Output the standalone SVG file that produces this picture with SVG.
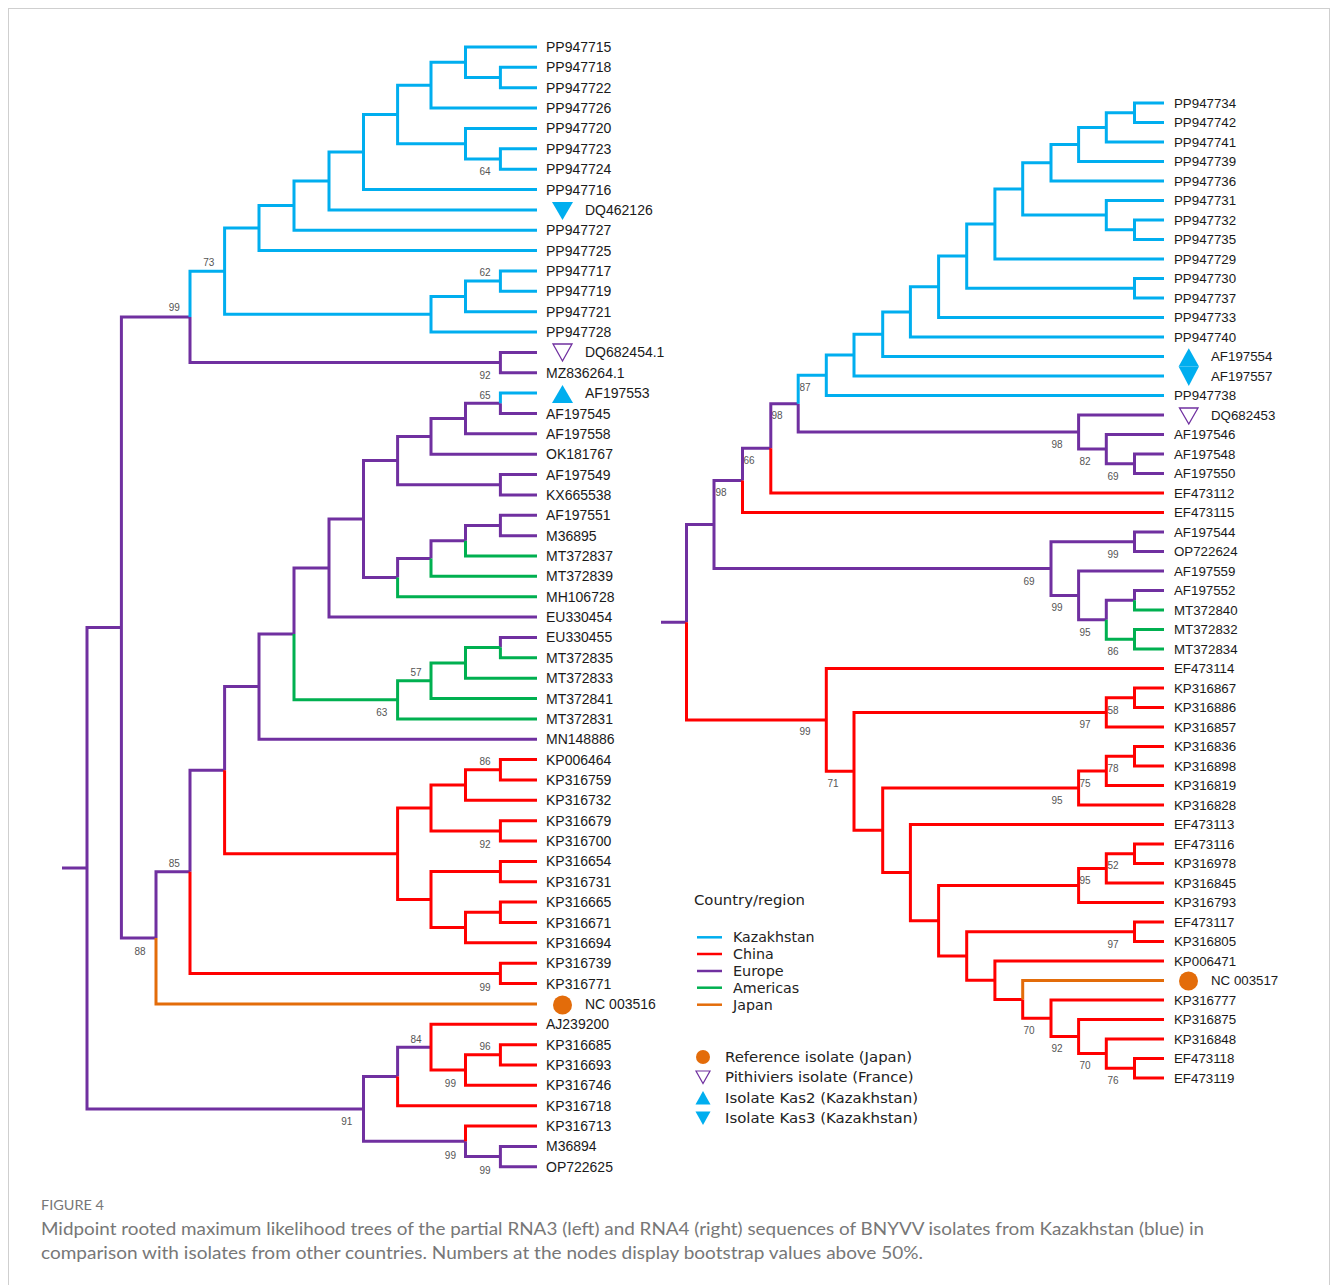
<svg xmlns="http://www.w3.org/2000/svg" width="1331" height="1285" viewBox="0 0 1331 1285">
<style>
.e{fill:none;stroke-width:3;stroke-linejoin:miter;stroke-linecap:butt}
.b{stroke:#00AEEF}.r{stroke:#FF0000}.p{stroke:#7030A0}.g{stroke:#00B050}.o{stroke:#E36C0A}
.lf{font-family:"Liberation Sans",Arial,sans-serif;font-size:14px;fill:#1a1a1a}
.rf{font-family:"Liberation Sans",Arial,sans-serif;font-size:13.3px;fill:#1a1a1a}
.bs{font-family:"Liberation Sans",Arial,sans-serif;font-size:10px;fill:#555;text-anchor:middle}
.lg{font-family:"DejaVu Sans",sans-serif;font-size:14.5px;fill:#222}
.cap{font-family:Lato,"Open Sans",sans-serif;fill:#777}
</style>
<rect x="0" y="0" width="1331" height="1285" fill="#fff"/>
<rect x="8.5" y="8.5" width="1321" height="1300" fill="none" stroke="#cfcfcf" stroke-width="1"/>

<g id="bootstrap-left">
<text class="bs" x="485" y="175.3">64</text>
<text class="bs" x="208.7" y="265.9">73</text>
<text class="bs" x="485" y="275.9">62</text>
<text class="bs" x="174.2" y="311.3">99</text>
<text class="bs" x="485" y="379.3">92</text>
<text class="bs" x="485" y="398.6">65</text>
<text class="bs" x="416" y="675.9">57</text>
<text class="bs" x="381.7" y="716.3">63</text>
<text class="bs" x="485" y="765.3">86</text>
<text class="bs" x="485" y="847.9">92</text>
<text class="bs" x="174.2" y="866.9">85</text>
<text class="bs" x="140" y="954.9">88</text>
<text class="bs" x="485" y="990.9">99</text>
<text class="bs" x="416" y="1042.6">84</text>
<text class="bs" x="485" y="1050.3">96</text>
<text class="bs" x="450.4" y="1086.9">99</text>
<text class="bs" x="346.8" y="1125.3">91</text>
<text class="bs" x="450.4" y="1158.6">99</text>
<text class="bs" x="485" y="1173.6">99</text>
</g>
<g id="bootstrap-right">
<text class="bs" x="805" y="390.6">87</text>
<text class="bs" x="777" y="418.6">98</text>
<text class="bs" x="749" y="464.3">66</text>
<text class="bs" x="721" y="495.6">98</text>
<text class="bs" x="1057" y="447.6">98</text>
<text class="bs" x="1085" y="465.3">82</text>
<text class="bs" x="1113" y="479.6">69</text>
<text class="bs" x="1113" y="557.6">99</text>
<text class="bs" x="1029" y="584.6">69</text>
<text class="bs" x="1057" y="611.3">99</text>
<text class="bs" x="1085" y="635.6">95</text>
<text class="bs" x="1113" y="655.3">86</text>
<text class="bs" x="805" y="735.3">99</text>
<text class="bs" x="833" y="786.6">71</text>
<text class="bs" x="1113" y="713.6">58</text>
<text class="bs" x="1085" y="727.6">97</text>
<text class="bs" x="1113" y="771.6">78</text>
<text class="bs" x="1085" y="786.6">75</text>
<text class="bs" x="1057" y="803.6">95</text>
<text class="bs" x="1113" y="869.3">52</text>
<text class="bs" x="1085" y="883.6">95</text>
<text class="bs" x="1113" y="947.6">97</text>
<text class="bs" x="1029" y="1033.6">70</text>
<text class="bs" x="1057" y="1051.6">92</text>
<text class="bs" x="1085" y="1069.3">70</text>
<text class="bs" x="1113" y="1084.3">76</text>
</g>

<g id="connectors">
<g id="left-tree-edges">
<path class="e p" d="M62 868.1H87 M87 868.1V627.4H121.4 M87 868.1V1108.9H363.5 M121.4 627.4V316.9H190 M121.4 627.4V937.9H156"/>
<path class="e b" d="M190 316.9V271.2H224.6 M224.6 271.2V228.1H259 M224.6 271.2V314.2H431 M259 228.1V205.6H294 M259 228.1V250.6H537 M294 205.6V180.9H329 M294 205.6V230.24H537 M329 180.9V152H363.5 M329 180.9V209.88H537 M363.5 152V114.4H397.6 M363.5 152V189.52H537 M397.6 114.4V85.2H431 M397.6 114.4V143.7H465.5 M431 85.2V62.3H465.5 M431 85.2V108.08H537 M465.5 62.3V47H537 M465.5 62.3V77.5H500.4 M500.4 77.5V67.36H537 M500.4 77.5V87.72H537 M465.5 143.7V128.44H537 M465.5 143.7V159H500.4 M500.4 159V148.8H537 M500.4 159V169.16H537 M431 314.2V296.4H465.5 M431 314.2V332.04H537 M465.5 296.4V281.1H500.4 M465.5 296.4V311.68H537 M500.4 281.1V270.96H537 M500.4 281.1V291.32H537"/>
<path class="e p" d="M190 316.9V362.6H500.4 M500.4 362.6V352.4H537 M500.4 362.6V372.76H537"/>
<path class="e p" d="M156 937.9V871.8H190 M190 871.8V770.2H224.6 M224.6 770.2V686.6H259 M259 686.6V633.9H294 M259 686.6V739.24H537 M294 633.9V568.1H329 M329 568.1V519.1H363.5 M329 568.1V617.08H537 M363.5 519.1V460.6H397.6 M363.5 519.1V577.6H397.6 M397.6 460.6V436.4H431 M397.6 460.6V484.7H500.4 M431 436.4V418.6H465.5 M431 436.4V454.2H537 M465.5 418.6V403.3H500.4 M465.5 418.6V433.84H537 M500.4 403.3V413.48H537 M500.4 484.7V474.56H537 M500.4 484.7V494.92H537 M397.6 577.6V558.5H431 M431 558.5V540.7H465.5 M465.5 540.7V525.5H500.4 M500.4 525.5V515.28H537 M500.4 525.5V535.64H537 M500.4 647.6V637.44H537"/>
<path class="e b" d="M500.4 403.3V393.12H537"/>
<path class="e g" d="M397.6 577.6V596.72H537 M431 558.5V576.36H537 M465.5 540.7V556H537 M294 633.9V699.8H397.6 M397.6 699.8V680.7H431 M397.6 699.8V718.88H537 M431 680.7V662.9H465.5 M431 680.7V698.52H537 M465.5 662.9V647.6H500.4 M465.5 662.9V678.16H537 M500.4 647.6V657.8H537"/>
<path class="e r" d="M190 871.8V973.4H500.4 M500.4 973.4V963.2H537 M500.4 973.4V983.56H537 M224.6 770.2V853.8H397.6 M397.6 853.8V807.9H431 M397.6 853.8V899.6H431 M431 807.9V785.1H465.5 M431 807.9V830.9H500.4 M465.5 785.1V769.8H500.4 M465.5 785.1V800.32H537 M500.4 769.8V759.6H537 M500.4 769.8V779.96H537 M500.4 830.9V820.68H537 M500.4 830.9V841.04H537 M431 899.6V871.6H500.4 M431 899.6V927.6H465.5 M500.4 871.6V861.4H537 M500.4 871.6V881.76H537 M465.5 927.6V912.3H500.4 M465.5 927.6V942.84H537 M500.4 912.3V902.12H537 M500.4 912.3V922.48H537"/>
<path class="e o" d="M156 937.9V1003.92H537"/>
<path class="e p" d="M363.5 1108.9V1076.4H397.6 M363.5 1108.9V1141.3H465.5 M397.6 1076.4V1047.2H431 M465.5 1141.3V1156.6H500.4 M500.4 1156.6V1146.44H537 M500.4 1156.6V1166.8H537"/>
<path class="e r" d="M397.6 1076.4V1105.72H537 M431 1047.2V1024.28H537 M431 1047.2V1070.1H465.5 M465.5 1070.1V1054.8H500.4 M465.5 1070.1V1085.36H537 M500.4 1054.8V1044.64H537 M500.4 1054.8V1065H537 M465.5 1141.3V1126.08H537"/>
</g>
<g id="right-tree-edges">
<path class="e p" d="M661 622.2H686.5 M686.5 622.2V524.5H714 M714 524.5V480.4H742.5 M714 524.5V568.6H1051 M742.5 480.4V448.3H770.8 M770.8 448.3V403.7H798.2 M798.2 403.7V432.1H1078.6 M1078.6 432.1V415H1164 M1078.6 432.1V449.1H1106.3 M1106.3 449.1V434.5H1164 M1106.3 449.1V463.75H1134.5 M1134.5 463.75V454H1164 M1134.5 463.75V473.5H1164"/>
<path class="e r" d="M742.5 480.4V512.5H1164 M770.8 448.3V493H1164"/>
<path class="e b" d="M798.2 403.7V375.3H826.3 M826.3 375.3V355.1H854 M826.3 375.3V395.5H1164 M854 355.1V334.2H882.7 M854 355.1V376H1164 M882.7 334.2V311.9H910.4 M882.7 334.2V356.5H1164 M910.4 311.9V286.8H938.6 M910.4 311.9V337H1164 M938.6 286.8V256.1H966.7 M938.6 286.8V317.5H1164 M966.7 256.1V224H994.9 M966.7 256.1V288.25H1134.5 M994.9 224V188.9H1022.7 M994.9 224V259H1164 M1022.7 188.9V162.7H1051 M1022.7 188.9V215.1H1106.3 M1051 162.7V144.4H1078.6 M1051 162.7V181H1164 M1078.6 144.4V127.4H1106.3 M1078.6 144.4V161.5H1164 M1106.3 127.4V112.75H1134.5 M1106.3 127.4V142H1164 M1134.5 112.75V103H1164 M1134.5 112.75V122.5H1164 M1106.3 215.1V200.5H1164 M1106.3 215.1V229.75H1134.5 M1134.5 229.75V220H1164 M1134.5 229.75V239.5H1164 M1134.5 288.25V278.5H1164 M1134.5 288.25V298H1164"/>
<path class="e p" d="M1051 568.6V541.75H1134.5 M1051 568.6V595.4H1078.6 M1134.5 541.75V532H1164 M1134.5 541.75V551.5H1164 M1078.6 595.4V571H1164 M1078.6 595.4V619.75H1106.3 M1106.3 619.75V600.25H1134.5 M1134.5 600.25V590.5H1164"/>
<path class="e g" d="M1134.5 600.25V610H1164 M1106.3 619.75V639.25H1134.5 M1134.5 639.25V629.5H1164 M1134.5 639.25V649H1164"/>
<path class="e r" d="M686.5 622.2V719.9H826.3 M826.3 719.9V668.5H1164 M826.3 719.9V771.3H854 M854 771.3V712.4H1106.3 M854 771.3V830.3H882.7 M1106.3 712.4V697.75H1134.5 M1106.3 712.4V727H1164 M1134.5 697.75V688H1164 M1134.5 697.75V707.5H1164 M882.7 830.3V788H1078.6 M882.7 830.3V872.6H910.4 M1078.6 788V770.9H1106.3 M1078.6 788V805H1164 M1106.3 770.9V756.25H1134.5 M1106.3 770.9V785.5H1164 M1134.5 756.25V746.5H1164 M1134.5 756.25V766H1164 M910.4 872.6V824.5H1164 M910.4 872.6V920.7H938.6 M938.6 920.7V885.4H1078.6 M938.6 920.7V956H966.7 M1078.6 885.4V868.4H1106.3 M1078.6 885.4V902.5H1164 M1106.3 868.4V853.75H1134.5 M1106.3 868.4V883H1164 M1134.5 853.75V844H1164 M1134.5 853.75V863.5H1164 M966.7 956V931.75H1134.5 M966.7 956V980.2H994.9 M1134.5 931.75V922H1164 M1134.5 931.75V941.5H1164 M994.9 980.2V961H1164 M994.9 980.2V999.4H1022.7 M1022.7 999.4V1018.3H1051 M1051 1018.3V1000H1164 M1051 1018.3V1036.6H1078.6 M1078.6 1036.6V1019.5H1164 M1078.6 1036.6V1053.6H1106.3 M1106.3 1053.6V1039H1164 M1106.3 1053.6V1068.25H1134.5 M1134.5 1068.25V1058.5H1164 M1134.5 1068.25V1078H1164"/>
<path class="e o" d="M1022.7 999.4V980.5H1164"/>
</g>
</g>

<g id="left-leaves">
<g id="n-PP947715"><text class="lf" x="546" y="52">PP947715</text></g>
<g id="n-PP947718"><text class="lf" x="546" y="72.4">PP947718</text></g>
<g id="n-PP947722"><text class="lf" x="546" y="92.7">PP947722</text></g>
<g id="n-PP947726"><text class="lf" x="546" y="113.1">PP947726</text></g>
<g id="n-PP947720"><text class="lf" x="546" y="133.4">PP947720</text></g>
<g id="n-PP947723"><text class="lf" x="546" y="153.8">PP947723</text></g>
<g id="n-PP947724"><text class="lf" x="546" y="174.2">PP947724</text></g>
<g id="n-PP947716"><text class="lf" x="546" y="194.5">PP947716</text></g>
<g id="n-DQ462126"><polygon points="552,202 573,202 562.5,220" fill="#00AEEF"/><text class="lf" x="585" y="214.9">DQ462126</text></g>
<g id="n-PP947727"><text class="lf" x="546" y="235.2">PP947727</text></g>
<g id="n-PP947725"><text class="lf" x="546" y="255.6">PP947725</text></g>
<g id="n-PP947717"><text class="lf" x="546" y="276">PP947717</text></g>
<g id="n-PP947719"><text class="lf" x="546" y="296.3">PP947719</text></g>
<g id="n-PP947721"><text class="lf" x="546" y="316.7">PP947721</text></g>
<g id="n-PP947728"><text class="lf" x="546" y="337">PP947728</text></g>
<g id="n-DQ682454"><polygon points="553,344 572,344 562.5,361" fill="none" stroke="#7030A0" stroke-width="1.3"/><text class="lf" x="585" y="357.4">DQ682454.1</text></g>
<g id="n-MZ836264"><text class="lf" x="546" y="377.8">MZ836264.1</text></g>
<g id="n-AF197553"><polygon points="562.5,385 552,403 573,403" fill="#00AEEF"/><text class="lf" x="585" y="398.1">AF197553</text></g>
<g id="n-AF197545"><text class="lf" x="546" y="418.5">AF197545</text></g>
<g id="n-AF197558"><text class="lf" x="546" y="438.8">AF197558</text></g>
<g id="n-OK181767"><text class="lf" x="546" y="459.2">OK181767</text></g>
<g id="n-AF197549"><text class="lf" x="546" y="479.6">AF197549</text></g>
<g id="n-KX665538"><text class="lf" x="546" y="499.9">KX665538</text></g>
<g id="n-AF197551"><text class="lf" x="546" y="520.3">AF197551</text></g>
<g id="n-M36895"><text class="lf" x="546" y="540.6">M36895</text></g>
<g id="n-MT372837"><text class="lf" x="546" y="561">MT372837</text></g>
<g id="n-MT372839"><text class="lf" x="546" y="581.4">MT372839</text></g>
<g id="n-MH106728"><text class="lf" x="546" y="601.7">MH106728</text></g>
<g id="n-EU330454"><text class="lf" x="546" y="622.1">EU330454</text></g>
<g id="n-EU330455"><text class="lf" x="546" y="642.4">EU330455</text></g>
<g id="n-MT372835"><text class="lf" x="546" y="662.8">MT372835</text></g>
<g id="n-MT372833"><text class="lf" x="546" y="683.2">MT372833</text></g>
<g id="n-MT372841"><text class="lf" x="546" y="703.5">MT372841</text></g>
<g id="n-MT372831"><text class="lf" x="546" y="723.9">MT372831</text></g>
<g id="n-MN148886"><text class="lf" x="546" y="744.2">MN148886</text></g>
<g id="n-KP006464"><text class="lf" x="546" y="764.6">KP006464</text></g>
<g id="n-KP316759"><text class="lf" x="546" y="785">KP316759</text></g>
<g id="n-KP316732"><text class="lf" x="546" y="805.3">KP316732</text></g>
<g id="n-KP316679"><text class="lf" x="546" y="825.7">KP316679</text></g>
<g id="n-KP316700"><text class="lf" x="546" y="846">KP316700</text></g>
<g id="n-KP316654"><text class="lf" x="546" y="866.4">KP316654</text></g>
<g id="n-KP316731"><text class="lf" x="546" y="886.8">KP316731</text></g>
<g id="n-KP316665"><text class="lf" x="546" y="907.1">KP316665</text></g>
<g id="n-KP316671"><text class="lf" x="546" y="927.5">KP316671</text></g>
<g id="n-KP316694"><text class="lf" x="546" y="947.8">KP316694</text></g>
<g id="n-KP316739"><text class="lf" x="546" y="968.2">KP316739</text></g>
<g id="n-KP316771"><text class="lf" x="546" y="988.6">KP316771</text></g>
<g id="n-NC003516"><circle cx="562.5" cy="1005" r="9.5" fill="#E36C0A"/><text class="lf" x="585" y="1008.9">NC 003516</text></g>
<g id="n-AJ239200"><text class="lf" x="546" y="1029.3">AJ239200</text></g>
<g id="n-KP316685"><text class="lf" x="546" y="1049.6">KP316685</text></g>
<g id="n-KP316693"><text class="lf" x="546" y="1070">KP316693</text></g>
<g id="n-KP316746"><text class="lf" x="546" y="1090.4">KP316746</text></g>
<g id="n-KP316718"><text class="lf" x="546" y="1110.7">KP316718</text></g>
<g id="n-KP316713"><text class="lf" x="546" y="1131.1">KP316713</text></g>
<g id="n-M36894"><text class="lf" x="546" y="1151.4">M36894</text></g>
<g id="n-OP722625"><text class="lf" x="546" y="1171.8">OP722625</text></g>
</g>

<g id="right-leaves">
<g id="m-PP947734"><text class="rf" x="1174" y="107.8">PP947734</text></g>
<g id="m-PP947742"><text class="rf" x="1174" y="127.3">PP947742</text></g>
<g id="m-PP947741"><text class="rf" x="1174" y="146.8">PP947741</text></g>
<g id="m-PP947739"><text class="rf" x="1174" y="166.3">PP947739</text></g>
<g id="m-PP947736"><text class="rf" x="1174" y="185.8">PP947736</text></g>
<g id="m-PP947731"><text class="rf" x="1174" y="205.3">PP947731</text></g>
<g id="m-PP947732"><text class="rf" x="1174" y="224.8">PP947732</text></g>
<g id="m-PP947735"><text class="rf" x="1174" y="244.3">PP947735</text></g>
<g id="m-PP947729"><text class="rf" x="1174" y="263.8">PP947729</text></g>
<g id="m-PP947730"><text class="rf" x="1174" y="283.3">PP947730</text></g>
<g id="m-PP947737"><text class="rf" x="1174" y="302.8">PP947737</text></g>
<g id="m-PP947733"><text class="rf" x="1174" y="322.3">PP947733</text></g>
<g id="m-PP947740"><text class="rf" x="1174" y="341.8">PP947740</text></g>
<g id="m-AF197554"><polygon points="1188.8,348.3 1178.6,366.6 1199,366.6" fill="#00AEEF"/><text class="rf" x="1211" y="361.3">AF197554</text></g>
<g id="m-AF197557"><polygon points="1178.6,366.6 1199,366.6 1188.8,386" fill="#00AEEF"/><text class="rf" x="1211" y="380.8">AF197557</text></g>
<g id="m-PP947738"><text class="rf" x="1174" y="400.3">PP947738</text></g>
<g id="m-DQ682453"><polygon points="1179.5,408 1198,408 1188.8,424" fill="none" stroke="#7030A0" stroke-width="1.3"/><text class="rf" x="1211" y="419.8">DQ682453</text></g>
<g id="m-AF197546"><text class="rf" x="1174" y="439.3">AF197546</text></g>
<g id="m-AF197548"><text class="rf" x="1174" y="458.8">AF197548</text></g>
<g id="m-AF197550"><text class="rf" x="1174" y="478.3">AF197550</text></g>
<g id="m-EF473112"><text class="rf" x="1174" y="497.8">EF473112</text></g>
<g id="m-EF473115"><text class="rf" x="1174" y="517.3">EF473115</text></g>
<g id="m-AF197544"><text class="rf" x="1174" y="536.8">AF197544</text></g>
<g id="m-OP722624"><text class="rf" x="1174" y="556.3">OP722624</text></g>
<g id="m-AF197559"><text class="rf" x="1174" y="575.8">AF197559</text></g>
<g id="m-AF197552"><text class="rf" x="1174" y="595.3">AF197552</text></g>
<g id="m-MT372840"><text class="rf" x="1174" y="614.8">MT372840</text></g>
<g id="m-MT372832"><text class="rf" x="1174" y="634.3">MT372832</text></g>
<g id="m-MT372834"><text class="rf" x="1174" y="653.8">MT372834</text></g>
<g id="m-EF473114"><text class="rf" x="1174" y="673.3">EF473114</text></g>
<g id="m-KP316867"><text class="rf" x="1174" y="692.8">KP316867</text></g>
<g id="m-KP316886"><text class="rf" x="1174" y="712.3">KP316886</text></g>
<g id="m-KP316857"><text class="rf" x="1174" y="731.8">KP316857</text></g>
<g id="m-KP316836"><text class="rf" x="1174" y="751.3">KP316836</text></g>
<g id="m-KP316898"><text class="rf" x="1174" y="770.8">KP316898</text></g>
<g id="m-KP316819"><text class="rf" x="1174" y="790.3">KP316819</text></g>
<g id="m-KP316828"><text class="rf" x="1174" y="809.8">KP316828</text></g>
<g id="m-EF473113"><text class="rf" x="1174" y="829.3">EF473113</text></g>
<g id="m-EF473116"><text class="rf" x="1174" y="848.8">EF473116</text></g>
<g id="m-KP316978"><text class="rf" x="1174" y="868.3">KP316978</text></g>
<g id="m-KP316845"><text class="rf" x="1174" y="887.8">KP316845</text></g>
<g id="m-KP316793"><text class="rf" x="1174" y="907.3">KP316793</text></g>
<g id="m-EF473117"><text class="rf" x="1174" y="926.8">EF473117</text></g>
<g id="m-KP316805"><text class="rf" x="1174" y="946.3">KP316805</text></g>
<g id="m-KP006471"><text class="rf" x="1174" y="965.8">KP006471</text></g>
<g id="m-NC003517"><circle cx="1188.5" cy="981" r="9.5" fill="#E36C0A"/><text class="rf" x="1211" y="985.3">NC 003517</text></g>
<g id="m-KP316777"><text class="rf" x="1174" y="1004.8">KP316777</text></g>
<g id="m-KP316875"><text class="rf" x="1174" y="1024.3">KP316875</text></g>
<g id="m-KP316848"><text class="rf" x="1174" y="1043.8">KP316848</text></g>
<g id="m-EF473118"><text class="rf" x="1174" y="1063.3">EF473118</text></g>
<g id="m-EF473119"><text class="rf" x="1174" y="1082.8">EF473119</text></g>
</g>

<g id="legend">
<text class="lg" x="694" y="905" textLength="111" lengthAdjust="spacingAndGlyphs">Country/region</text>
<line x1="697" y1="937.3" x2="722" y2="937.3" stroke="#00AEEF" stroke-width="2.5"/>
<line x1="697" y1="954" x2="722" y2="954" stroke="#FF0000" stroke-width="2.5"/>
<line x1="697" y1="971" x2="722" y2="971" stroke="#7030A0" stroke-width="2.5"/>
<line x1="697" y1="987.7" x2="722" y2="987.7" stroke="#00B050" stroke-width="2.5"/>
<line x1="697" y1="1004.7" x2="722" y2="1004.7" stroke="#E36C0A" stroke-width="2.5"/>
<text class="lg" x="733" y="942.3" textLength="81.6" lengthAdjust="spacingAndGlyphs">Kazakhstan</text>
<text class="lg" x="733" y="959" textLength="40.7" lengthAdjust="spacingAndGlyphs">China</text>
<text class="lg" x="733" y="976" textLength="50.7" lengthAdjust="spacingAndGlyphs">Europe</text>
<text class="lg" x="733" y="992.7" textLength="66.3" lengthAdjust="spacingAndGlyphs">Americas</text>
<text class="lg" x="733" y="1009.7" textLength="39.7" lengthAdjust="spacingAndGlyphs">Japan</text>
<circle cx="703" cy="1057" r="7" fill="#E36C0A"/>
<polygon points="696,1071 710,1071 703,1083.5" fill="none" stroke="#7030A0" stroke-width="1.2"/>
<polygon points="703,1091 695.5,1104.5 710.5,1104.5" fill="#00AEEF"/>
<polygon points="695.5,1111.5 710.5,1111.5 703,1125" fill="#00AEEF"/>
<text class="lg" x="725" y="1062" textLength="187" lengthAdjust="spacingAndGlyphs">Reference isolate (Japan)</text>
<text class="lg" x="725" y="1082" textLength="188.5" lengthAdjust="spacingAndGlyphs">Pithiviers isolate (France)</text>
<text class="lg" x="725" y="1103" textLength="193" lengthAdjust="spacingAndGlyphs">Isolate Kas2 (Kazakhstan)</text>
<text class="lg" x="725" y="1123" textLength="193" lengthAdjust="spacingAndGlyphs">Isolate Kas3 (Kazakhstan)</text>
</g>

<g id="caption">
<text class="cap" x="41" y="1210" font-size="13" textLength="63" lengthAdjust="spacingAndGlyphs">FIGURE 4</text>
<text class="cap" x="41" y="1235" font-size="17" textLength="1163" lengthAdjust="spacingAndGlyphs">Midpoint rooted maximum likelihood trees of the partial RNA3 (left) and RNA4 (right) sequences of BNYVV isolates from Kazakhstan (blue) in</text>
<text class="cap" x="41" y="1259" font-size="17" textLength="882" lengthAdjust="spacingAndGlyphs">comparison with isolates from other countries. Numbers at the nodes display bootstrap values above 50%.</text>
</g>
</svg>
